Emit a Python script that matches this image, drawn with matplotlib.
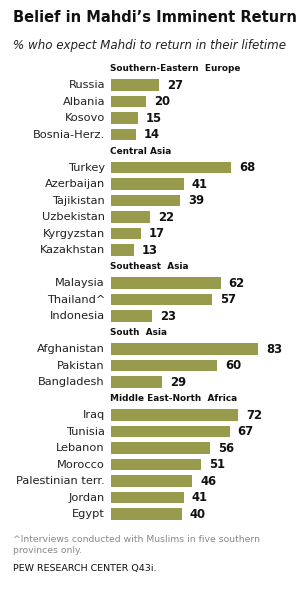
import matplotlib
matplotlib.use("Agg")
import matplotlib.pyplot as plt

W, H = 307, 590

regions = ["Southern-Eastern  Europe", "Central Asia", "Southeast  Asia",
           "South  Asia", "Middle East-North  Africa"]
countries = [
    ["Russia", "Albania", "Kosovo", "Bosnia-Herz."],
    ["Turkey", "Azerbaijan", "Tajikistan", "Uzbekistan", "Kyrgyzstan", "Kazakhstan"],
    ["Malaysia", "Thailand^", "Indonesia"],
    ["Afghanistan", "Pakistan", "Bangladesh"],
    ["Iraq", "Tunisia", "Lebanon", "Morocco", "Palestinian terr.", "Jordan", "Egypt"],
]
values = [
    [27, 20, 15, 14],
    [68, 41, 39, 22, 17, 13],
    [62, 57, 23],
    [83, 60, 29],
    [72, 67, 56, 51, 46, 41, 40],
]

title = "Belief in Mahdi\u2019s Imminent Return"
subtitle = "% who expect Mahdi to return in their lifetime"
footnote = "^Interviews conducted with Muslims in five southern\nprovinces only."
source = "PEW RESEARCH CENTER Q43i."

bar_color = "#979B4B"

fig = plt.figure(figsize=(W / 100, H / 100), dpi=100)
fig.patch.set_facecolor("white")

row_px = 16.5
y0_px = 85.0
left_px = 111
xscale = 1.77  # px per unit
ax = fig.add_axes([left_px / W, 0, 100 * xscale / W, 1])
ax.set_xlim(0, 100)
ax.set_ylim((H - y0_px) / row_px, -y0_px / row_px)
ax.axis("off")

font = "DejaVu Sans"
slot = -1
for reg, cs, vs in zip(regions, countries, values):
    ax.text(-0.3, slot, reg, fontsize=6.4, fontweight="bold", ha="left",
            va="center", family=font, color="#111111")
    slot += 1
    for c, v in zip(cs, vs):
        ax.barh(slot, v, height=0.68, color=bar_color, left=0)
        ax.text(-3.4, slot, c, fontsize=8.2, ha="right", va="center",
                family=font, color="#222222")
        ax.text(v + 4.5, slot, str(v), fontsize=8.4, fontweight="bold",
                ha="left", va="center", family=font, color="#111111")
        slot += 1

def ft(xp, yp, s, **kw):
    fig.text(xp / W, 1 - yp / H, s, family=font, **kw)

ft(13, 18, title, fontsize=10.5, fontweight="bold", va="center", ha="left", color="#111111")
ft(13, 45, subtitle, fontsize=8.6, style="italic", va="center", ha="left", color="#222222")
ft(13, 545, footnote, fontsize=6.7, va="center", ha="left", color="#888888", linespacing=1.2)
ft(13, 569, source, fontsize=6.8, va="center", ha="left", color="#111111")

fig.savefig("out.png", dpi=100, facecolor="white")
